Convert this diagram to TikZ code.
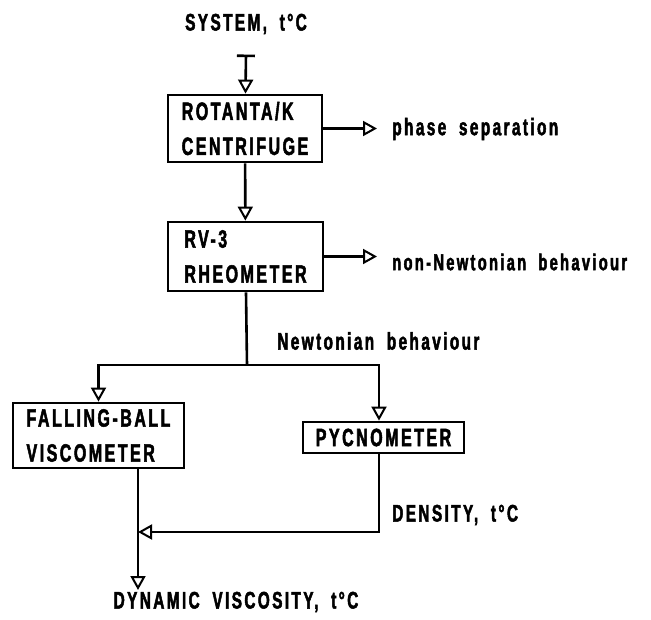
\documentclass[tikz,border=0pt]{standalone}
\usepackage{fontspec}
\setmainfont{Liberation Sans}[BoldFont={* Bold}, BoldFeatures={FakeBold=2}, FakeStretch=0.64, LetterSpace=10, WordSpace=1.9]
\usetikzlibrary{arrows.meta}
\begin{document}
\begin{tikzpicture}[
        x=1pt, y=-1pt,
        font=\bfseries,
        line width=2.6pt,
        box/.style={
            rectangle, draw=black, line width=2.8pt,
            inner sep=0pt, align=left,
            font=\bfseries\fontsize{25}{35}\selectfont
        },
        lbl/.style={
            inner sep=0pt,
            font=\bfseries\fontsize{24}{28}\selectfont
        },
        arr/.style={-{Triangle[open, length=14pt, width=15pt, line width=2pt]}}
    ]
        \useasboundingbox (0,0) rectangle (651,620);

        % Eingang
        \node[lbl] (sys) at (246,24) {SYSTEM, t°C};

        % Zentrifuge
        \node[box, minimum width=154pt, minimum height=67pt] (rotanta) at (245,128.5) {
            ROTANTA/K \\
            CENTRIFUGE
        };

        % Rheometer
        \node[box, minimum width=155pt, minimum height=69pt] (rheo) at (245.5,256.5) {
            RV-3 \\
            RHEOMETER
        };

        % Kugelfallviskosimeter
        \node[box, minimum width=171pt, minimum height=65pt] (falling) at (98.5,435.5) {
            FALLING-BALL \\
            VISCOMETER
        };

        % Pyknometer
        \node[box, minimum width=161pt, minimum height=31pt] (pycno) at (383.5,437.5) {PYCNOMETER};

        % Beschriftungen
        \node[lbl, anchor=west] (phase) at (391,129) {phase separation};
        \node[lbl, anchor=west, font=\bfseries\fontsize{23}{28}\selectfont] (nonnewt) at (391,262) {non-Newtonian behaviour};
        \node[lbl, anchor=west] (newt) at (276,341) {Newtonian behaviour};
        \node[lbl, anchor=west] (dens) at (391,515) {DENSITY, t°C};
        \node[lbl] (visc) at (236,602) {DYNAMIC VISCOSITY, t°C};

        \coordinate (split) at (247,365);
        \coordinate (merge) at (138,532);
        \coordinate (out) at (138,590);

        % Verbindungen
        \draw[{Bar[width=18pt]}-{Triangle[open, length=14pt, width=15pt, line width=2pt]}] ([yshift=-19pt]sys.south) -- (rotanta);
        \draw[arr] (rotanta) -- (rheo);
        \draw[arr, shorten >=14pt] (rotanta.east) -- (rotanta.east -| phase.west);
        \draw[arr, shorten >=14pt] (rheo.east) -- (rheo.east -| nonnewt.west);
        \draw (rheo) -- (split);
        \draw[arr] (split) -| (falling.north);
        \draw[arr] (split) -| ([xshift=-4.5pt]pycno.north);
        \draw[arr] ([xshift=-4.5pt]pycno.south) |- (merge);
        \draw[arr] ([xshift=39.5pt]falling.south) -- (out);

    \end{tikzpicture}
\end{document}
